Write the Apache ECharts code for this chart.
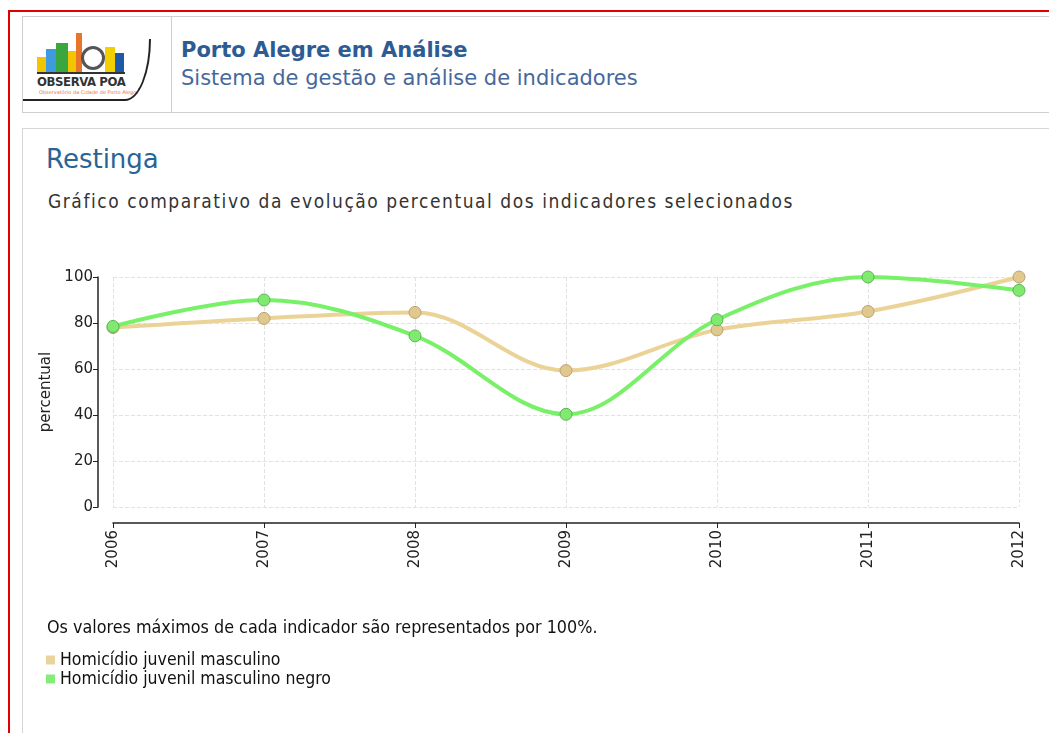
<!DOCTYPE html>
<html>
<head>
<meta charset="utf-8">
<script src="https://cdn.jsdelivr.net/npm/echarts@6/dist/echarts.min.js"></script>
<style>
  html, body { margin: 0; padding: 0; background: #fff; width: 1049px; height: 733px; overflow: hidden; }
  body { position: relative; font-family: "DejaVu Sans", Verdana, sans-serif; }
  #frame { position: absolute; left: 8px; top: 10px; width: 1100px; height: 800px; border: 2px solid #e00000; box-sizing: border-box; }
  #header { position: absolute; left: 22px; top: 16px; width: 1100px; height: 97px; border: 1px solid #cfcfcf; box-sizing: border-box; }
  #logo { position: absolute; left: 0; top: 0; width: 148px; height: 95px; border-right: 1px solid #cfcfcf; overflow: hidden; }
  #hTitle { position: absolute; left: 158px; top: 21px; font-size: 21px; font-weight: bold; color: #2d5c94; white-space: nowrap; line-height: 1.164; }
  #hSub { position: absolute; left: 158px; top: 49px; font-size: 21px; color: #46689c; white-space: nowrap; line-height: 1.164; }
  #panel { position: absolute; left: 22px; top: 128px; width: 1100px; height: 700px; border: 1px solid #d6d6d6; box-sizing: border-box; }
  #title { position: absolute; left: 46px; top: 144px; font-size: 26px; color: #2a6496; line-height: 1.164; }
  #subtitle { position: absolute; left: 48px; top: 190px; font-size: 19px; color: #333; letter-spacing: 1.55px; font-family: "DejaVu Sans Condensed", "DejaVu Sans", sans-serif; white-space: nowrap; line-height: 1.164; }
  #chart { position: absolute; left: 0; top: 0; width: 1049px; height: 733px; }
  .b { position: absolute; }
</style>
</head>
<body>
<div id="frame"></div>
<div id="header">
  <div id="logo">
    <div class="b" style="left:14px;top:40px;width:9px;height:15px;background:#f2c500;"></div>
    <div class="b" style="left:23px;top:32px;width:10px;height:23px;background:#3f9be0;"></div>
    <div class="b" style="left:33px;top:26px;width:12px;height:29px;background:#3aa640;"></div>
    <div class="b" style="left:45px;top:34px;width:8px;height:21px;background:#f2c500;"></div>
    <div class="b" style="left:53px;top:16px;width:6px;height:39px;background:#e8752a;"></div>
    <div class="b" style="left:58px;top:29px;width:24px;height:24px;background:#fff;border:3px solid #555;border-radius:50%;box-sizing:border-box;"></div>
    <div class="b" style="left:82px;top:30px;width:10px;height:25px;background:#f2d000;"></div>
    <div class="b" style="left:92px;top:36px;width:9px;height:19px;background:#1e5aa8;"></div>
    <div class="b" style="left:14px;top:55px;width:88px;height:2px;background:#333;"></div>
    <div style="position:absolute;left:14px;top:58px;font-size:13px;font-weight:bold;color:#333;font-family:'DejaVu Sans Condensed',sans-serif;letter-spacing:-0.4px;line-height:1;">OBSERVA POA</div>
    <div style="position:absolute;left:16px;top:73px;font-size:5px;color:#e8752a;white-space:nowrap;line-height:1;">Observatório da Cidade de Porto Alegre</div>
    <div style="position:absolute;left:-6px;top:22px;width:134px;height:62px;border-right:2px solid #222;border-bottom:2px solid #222;border-bottom-right-radius:26px 62px;box-sizing:border-box;"></div>
  </div>
  <div id="hTitle">Porto Alegre em Análise</div>
  <div id="hSub">Sistema de gestão e análise de indicadores</div>
</div>
<div id="panel"></div>
<div id="title">Restinga</div>
<div id="subtitle">Gráfico comparativo da evolução percentual dos indicadores selecionados</div>
<div id="chart"></div>
<script>
// dados (percentual do máximo de cada indicador)
var anos = ['2006', '2007', '2008', '2009', '2010', '2011', '2012'];
var homicidioMasc = [78, 82, 84.6, 59.3, 77, 85, 100];
var homicidioMascNegro = [78.5, 90, 74.4, 40.3, 81.4, 100, 94.2];
var nomes = ['Homicídio juvenil masculino', 'Homicídio juvenil masculino negro'];
var nota = 'Os valores máximos de cada indicador são representados por 100%.';

var myChart = echarts.init(document.getElementById('chart'));

var font = '"DejaVu Sans", Verdana, sans-serif';
var fontCond = '"DejaVu Sans Condensed", "DejaVu Sans", sans-serif';

var option = {
    animation: false,
    textStyle: { fontFamily: font },
    grid: { left: 113, right: 30, top: 277, bottom: 226 },
    legend: {
        orient: 'vertical',
        left: 46,
        top: 651,
        padding: 0,
        itemWidth: 9,
        itemHeight: 9,
        itemGap: 1,
        icon: 'rect',
        textStyle: { fontSize: 17.5, color: '#111', fontFamily: fontCond },
        data: [
            { name: nomes[0], itemStyle: { color: '#e9d59c', borderWidth: 0 } },
            { name: nomes[1], itemStyle: { color: '#86ec78', borderWidth: 0 } }
        ]
    },
    graphic: [{
        type: 'text',
        left: 47,
        top: 619,
        style: {
            text: nota,
            fontSize: 17.8,
            fill: '#111',
            fontFamily: fontCond
        }
    }],
    xAxis: {
        type: 'category',
        data: anos,
        boundaryGap: false,
        offset: 16,
        axisLine: { onZero: false, lineStyle: { color: '#222', width: 1.5 } },
        axisTick: { length: 5, lineStyle: { color: '#222' } },
        axisLabel: { rotate: 90, fontSize: 15, color: '#222', margin: 7 },
        splitLine: { show: true, lineStyle: { color: '#e2e2e2', type: 'dashed' } }
    },
    yAxis: {
        type: 'value',
        min: 0,
        max: 100,
        interval: 20,
        offset: 15,
        name: 'percentual',
        nameLocation: 'middle',
        nameGap: 42,
        nameTextStyle: { fontSize: 15, color: '#222' },
        axisLine: { show: true, lineStyle: { color: '#222', width: 1.5 } },
        axisTick: { show: true, length: 5, lineStyle: { color: '#222' } },
        axisLabel: { fontSize: 15, color: '#222', margin: 5 },
        splitLine: { show: true, lineStyle: { color: '#e2e2e2', type: 'dashed' } }
    },
    series: [{
        name: nomes[0],
        type: 'line',
        data: homicidioMasc,
        smooth: 0.35,
        symbol: 'circle',
        symbolSize: 12,
        lineStyle: { color: '#ebd398', width: 4 },
        itemStyle: { color: '#e1c88e', borderColor: '#b9a274', borderWidth: 1 },
        z: 2
    }, {
        name: nomes[1],
        type: 'line',
        data: homicidioMascNegro,
        smooth: 0.35,
        symbol: 'circle',
        symbolSize: 12,
        lineStyle: { color: '#78f068', width: 4 },
        itemStyle: { color: '#80ea70', borderColor: '#5cb456', borderWidth: 1 },
        z: 3
    }]
};

myChart.setOption(option);
</script>
</body>
</html>
